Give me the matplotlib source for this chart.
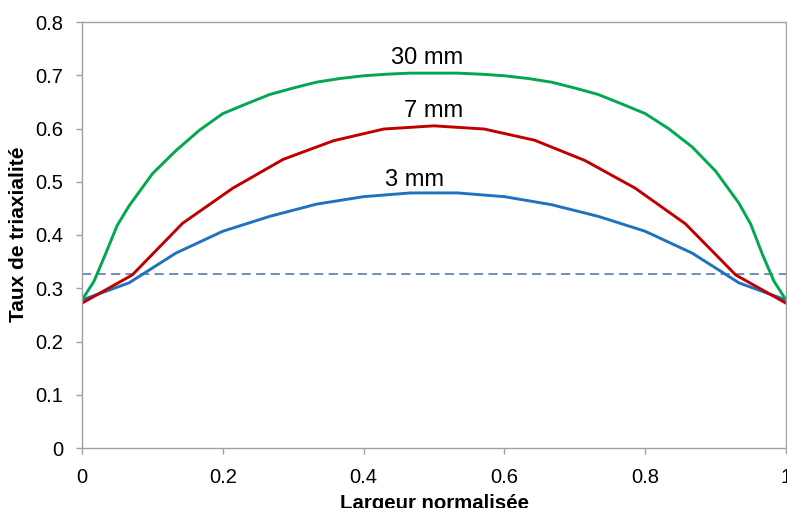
import matplotlib

matplotlib.use("Agg")

import matplotlib.pyplot as plt

plt.rcParams["font.family"] = ["Liberation Sans", "DejaVu Sans"]

# 3 mm series (points every 1/15)
x_3mm = [0, 1/15, 2/15, 3/15, 4/15, 5/15, 6/15, 7/15, 8/15, 9/15, 10/15,
         11/15, 12/15, 13/15, 14/15, 1]
y_3mm = [0.278, 0.310, 0.366, 0.407, 0.435, 0.458, 0.472, 0.479, 0.479,
         0.472, 0.457, 0.435, 0.407, 0.366, 0.310, 0.278]

# 7 mm series (points every 1/14)
x_7mm = [0, 1/14, 2/14, 3/14, 4/14, 5/14, 6/14, 7/14, 8/14, 9/14, 10/14,
         11/14, 12/14, 13/14, 1]
y_7mm = [0.272, 0.325, 0.422, 0.488, 0.542, 0.577, 0.599, 0.605, 0.599,
         0.578, 0.540, 0.488, 0.421, 0.325, 0.272]

# 30 mm series
x_30mm = [0, 0.017, 0.033, 0.05, 0.067, 0.1, 0.133, 0.167, 0.2, 0.233, 0.267,
          0.3, 0.333, 0.367, 0.4, 0.433, 0.467, 0.5, 0.533, 0.567, 0.6, 0.633,
          0.667, 0.7, 0.733, 0.767, 0.8, 0.833, 0.867, 0.9, 0.933, 0.95,
          0.967, 0.983, 1]
y_30mm = [0.278, 0.313, 0.363, 0.418, 0.455, 0.515, 0.558, 0.597, 0.628,
          0.646, 0.664, 0.676, 0.687, 0.694, 0.699, 0.702, 0.704, 0.704,
          0.704, 0.702, 0.699, 0.694, 0.687, 0.676, 0.664, 0.646, 0.628,
          0.600, 0.565, 0.520, 0.460, 0.420, 0.362, 0.313, 0.278]

threshold = 0.327

series_labels = ["3 mm", "7 mm", "30 mm"]
label_pos = [(0.473, 0.504), (0.50, 0.632), (0.49, 0.733)]

x_ticks = [0, 0.2, 0.4, 0.6, 0.8, 1]
x_tick_labels = ["0", "0.2", "0.4", "0.6", "0.8", "1"]
y_ticks = [0, 0.1, 0.2, 0.3, 0.4, 0.5, 0.6, 0.7, 0.8]
y_tick_labels = ["0", "0.1", "0.2", "0.3", "0.4", "0.5", "0.6", "0.7", "0.8"]

fig = plt.figure(figsize=(7.87, 5.08), dpi=100)
ax = fig.add_axes([82 / 787, 1 - 448 / 508, 704 / 787, 426 / 508])

ax.axhline(threshold, color="#4F6FA0", lw=1.1, ls=(0, (6, 3.5)))
ax.plot(x_3mm, y_3mm, color="#1F72BE", lw=2.1)
ax.plot(x_7mm, y_7mm, color="#C00000", lw=2.1)
ax.plot(x_30mm, y_30mm, color="#00A84F", lw=2.1)

for text, (tx, ty) in zip(series_labels, label_pos):
    ax.text(tx, ty, text, fontsize=17, ha="center", va="center", color="black")

ax.set_xlim(0, 1)
ax.set_ylim(0, 0.8)
ax.set_xticks(x_ticks)
ax.set_xticklabels(x_tick_labels)
ax.set_yticks(y_ticks)
ax.set_yticklabels(y_tick_labels)
ax.tick_params(axis="both", labelsize=14.5, colors="#A0A0A0", labelcolor="black",
               length=4, width=1, direction="out")
ax.tick_params(axis="x", pad=10.5)
ax.tick_params(axis="y", pad=9.5)
for spine in ax.spines.values():
    spine.set_color("#A0A0A0")
    spine.set_linewidth(1)

ax.set_ylabel("Taux de triaxialité", fontsize=15, fontweight="bold")
ax.yaxis.set_label_coords(-0.077, 0.502)
ax.set_xlabel("Largeur normalisée", fontsize=14.7, fontweight="bold")
ax.xaxis.set_label_coords(0.5, -0.109)

fig.savefig("out.png", dpi=100)
